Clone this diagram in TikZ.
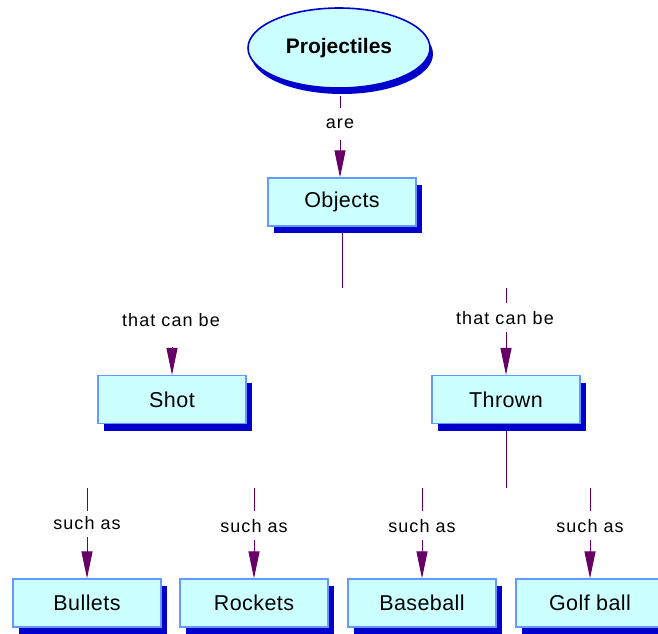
\documentclass[tikz,border=0pt]{standalone}
\usepackage{fontspec}
\setmainfont{Liberation Sans}
\newfontfamily\lblfont[LetterSpace=6]{Liberation Sans}
\newfontfamily\boxfont[LetterSpace=2]{Liberation Sans}
\usetikzlibrary{arrows.meta,shadows,shapes.geometric,backgrounds}
\definecolor{boxfill}{HTML}{CCFFFF}
\definecolor{boxline}{HTML}{6699FF}
\definecolor{shadowblue}{HTML}{0000CC}
\definecolor{conncol}{HTML}{660066}
\begin{document}
\begin{tikzpicture}[x=1pt,y=-1pt,
  concept/.style={rectangle, draw=boxline, line width=1.2pt, fill=boxfill,
    minimum width=148pt, minimum height=48pt, inner sep=0pt,
    font=\boxfont\fontsize{21.5}{24}\selectfont,
    general shadow={fill=shadowblue, shadow xshift=6pt, shadow yshift=-7pt}},
  topic/.style={ellipse, draw=shadowblue, line width=1.6pt, fill=boxfill,
    minimum width=182pt, minimum height=80pt, inner sep=0pt,
    font=\fontsize{21}{24}\selectfont\bfseries,
    general shadow={fill=shadowblue, shadow xshift=3pt, shadow yshift=-6pt}},
  lbl/.style={inner sep=0pt, font=\lblfont\fontsize{18}{20}\selectfont},
  conn/.style={draw=conncol, line width=0.9pt},
  arr/.style={conn, -{Triangle[length=27pt,width=11pt]}}]
\useasboundingbox (0,0) rectangle (658,633);
\clip (0,0) rectangle (658,633);
% concepts
\node[topic] (proj) at (339,48) {Projectiles};
\node[concept] (obj) at (342,202) {Objects};
\node[concept] (shot) at (172,399.5) {Shot};
\node[concept] (thrown) at (506,399.5) {Thrown};
\node[concept] (bul) at (87,603) {Bullets};
\node[concept] (roc) at (254,603) {Rockets};
\node[concept] (bas) at (422,603) {Baseball};
\node[concept] (gol) at (590,603) {Golf ball};
% linking labels
\node[lbl] (lare) at (340,124) {are};
\node[lbl] (lshot) at (171,320) {that can be};
\node[lbl] (lthr) at (505,318) {that can be};
\node[lbl] (lbul) at (87,523) {such as};
\node[lbl] (lroc) at (254,526) {such as};
\node[lbl] (lbas) at (422,526) {such as};
\node[lbl] (lgol) at (590,526) {such as};
% connector points
\coordinate (a0) at (340,96);
\coordinate (a1) at (340,108);
\coordinate (a2) at (340,140);
\coordinate (b1) at (342,288);
\coordinate (c1) at (172,347);
\coordinate (d0) at (506,288);
\coordinate (d1) at (506,303);
\coordinate (d2) at (506,332);
\coordinate (e0) at (506,488);
\foreach \n/\x/\s in {1/87/537, 2/254/540, 3/422/540, 4/590/540}{
  \coordinate (f\n a) at (\x,488);
  \coordinate (f\n b) at (\x,511);
  \coordinate (f\n c) at (\x,\s);
}
\begin{scope}[on background layer]
\draw[conn] (a0) -- (a1);
\draw[arr] (a2) -- (a2 |- obj.north);
\draw[conn] (obj.south -| b1) -- (b1);
\draw[arr] (c1) -- (shot.north);
\draw[conn] (d0) -- (d1);
\draw[arr] (d2) -- (thrown.north);
\draw[conn] (thrown.south) -- (e0);
\draw[conn] (f1a) -- (f1b); \draw[arr] (f1c) -- (bul.north);
\draw[conn] (f2a) -- (f2b); \draw[arr] (f2c) -- (roc.north);
\draw[conn] (f3a) -- (f3b); \draw[arr] (f3c) -- (bas.north);
\draw[conn] (f4a) -- (f4b); \draw[arr] (f4c) -- (gol.north);
\end{scope}
\end{tikzpicture}
\end{document}
